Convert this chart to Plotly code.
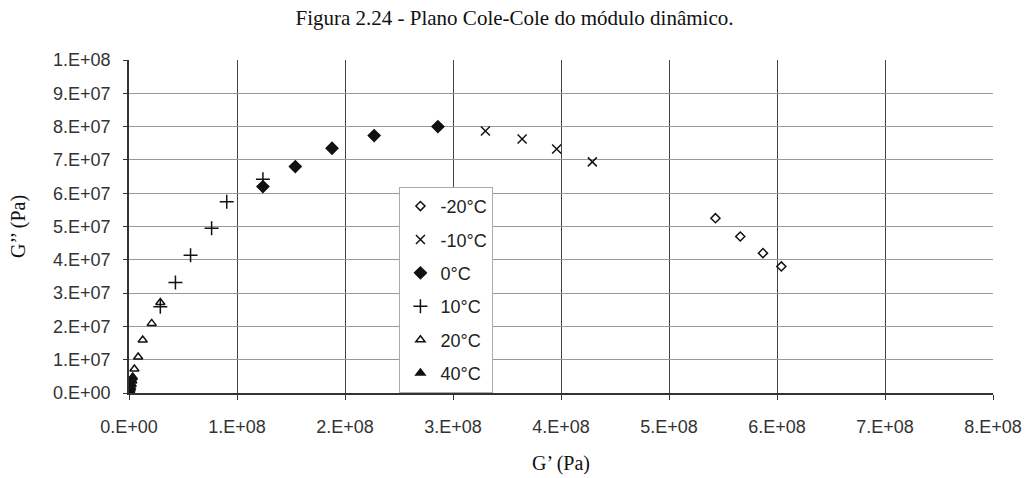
import plotly.graph_objects as go

# Data (G' in Pa, G'' in Pa)
m20_x = [5.43e8, 5.66e8, 5.87e8, 6.04e8]
m20_y = [5.25e7, 4.70e7, 4.20e7, 3.80e7]

m10_x = [3.30e8, 3.64e8, 3.96e8, 4.29e8]
m10_y = [7.87e7, 7.63e7, 7.33e7, 6.94e7]

c0_x = [1.24e8, 1.54e8, 1.88e8, 2.27e8, 2.86e8]
c0_y = [6.20e7, 6.80e7, 7.35e7, 7.73e7, 8.00e7]

c10_x = [0.29e8, 0.43e8, 0.57e8, 0.765e8, 0.905e8, 1.24e8]
c10_y = [2.59e7, 3.32e7, 4.14e7, 4.95e7, 5.74e7, 6.42e7]

c20_x = [0.03e8, 0.05e8, 0.085e8, 0.127e8, 0.21e8, 0.29e8]
c20_y = [0.45e7, 0.72e7, 1.08e7, 1.59e7, 2.09e7, 2.72e7]

c40_x = [0.005e8, 0.01e8, 0.015e8, 0.02e8, 0.025e8, 0.03e8, 0.035e8]
c40_y = [0.03e7, 0.07e7, 0.12e7, 0.18e7, 0.26e7, 0.36e7, 0.48e7]

x_ticks = [i * 1e8 for i in range(9)]
x_labels = ["0.E+00", "1.E+08", "2.E+08", "3.E+08", "4.E+08", "5.E+08", "6.E+08", "7.E+08", "8.E+08"]
y_ticks = [i * 1e7 for i in range(11)]
y_labels = ["0.E+00", "1.E+07", "2.E+07", "3.E+07", "4.E+07", "5.E+07", "6.E+07", "7.E+07", "8.E+07", "9.E+07", "1.E+08"]

series = [
    ("-20°C", m20_x, m20_y, "diamond-open", 7),
    ("-10°C", m10_x, m10_y, "x-thin-open", 9),
    ("0°C", c0_x, c0_y, "diamond", 9),
    ("10°C", c10_x, c10_y, "cross-thin-open", 10),
    ("20°C", c20_x, c20_y, "triangle-up-open", 8),
    ("40°C", c40_x, c40_y, "triangle-up", 8),
]

fig = go.Figure()
for i, (name, xs, ys, sym, sz) in enumerate(series):
    fig.add_trace(go.Scatter(
        x=xs, y=ys, mode="markers", name=name, legendgroup=str(i),
        marker=dict(symbol=sym, size=sz, color="#111111",
                    line=dict(color="#111111", width=1.5)),
    ))

fig.update_layout(
    width=1029, height=478,
    margin=dict(l=129, r=36, t=60, b=85),
    paper_bgcolor="white", plot_bgcolor="white",
    title=dict(text="Figura 2.24 - Plano Cole-Cole do módulo dinâmico.",
               x=0.5, xref="container", xanchor="center", y=0.964, yanchor="middle",
               font=dict(family="Liberation Serif", size=21, color="#111111")),
    legend=dict(x=0.313, y=0.619, xanchor="left", yanchor="top",
                bgcolor="white", bordercolor="#aaaaaa", borderwidth=1,
                font=dict(family="Liberation Sans", size=18, color="#222222"),
                tracegroupgap=7, traceorder="grouped", itemwidth=30),
    showlegend=True,
)
fig.update_xaxes(
    range=[0, 8e8], tickvals=x_ticks, ticktext=x_labels, automargin=False,
    showgrid=True, gridcolor="#444444", gridwidth=1,
    showline=True, linecolor="#333333", linewidth=1.5,
    ticks="outside", ticklen=5, tickcolor="#333333", ticklabelstandoff=12,
    tickfont=dict(family="Liberation Sans", size=18, color="#333333"),
    zeroline=False,
    title=dict(text="G’ (Pa)", standoff=20,
               font=dict(family="Liberation Serif", size=20, color="#111111")),
)
fig.update_yaxes(
    range=[0, 1e8], tickvals=y_ticks, ticktext=y_labels, automargin=False,
    showgrid=True, gridcolor="#999999", gridwidth=1,
    showline=True, linecolor="#333333", linewidth=1.5,
    ticks="outside", ticklen=4, tickcolor="#333333", ticklabelstandoff=9,
    tickfont=dict(family="Liberation Sans", size=18, color="#333333"),
    zeroline=False,
    title=dict(text="G’’ (Pa)", standoff=22,
               font=dict(family="Liberation Serif", size=20, color="#111111")),
)

fig.write_html("out.html")
